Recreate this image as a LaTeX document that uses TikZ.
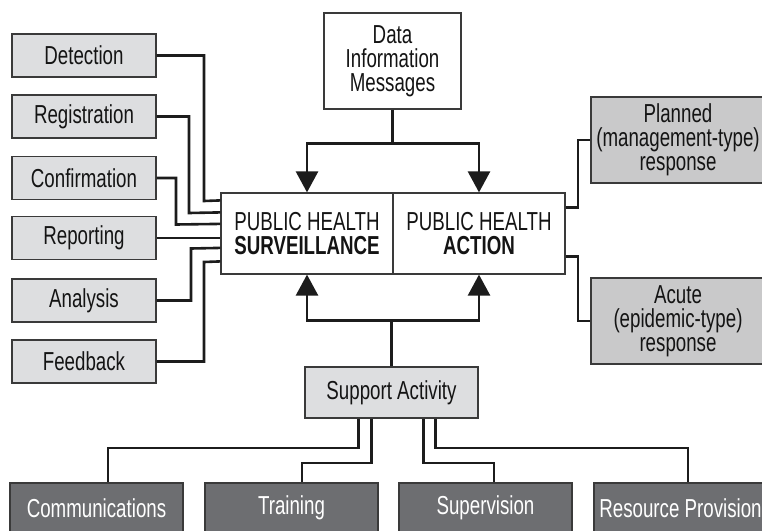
\documentclass[tikz,border=0pt]{standalone}
\usepackage{fontspec}
\setmainfont{Liberation Sans}[FakeStretch=0.72]
\usetikzlibrary{arrows.meta}
\definecolor{lightbox}{HTML}{DDDEE0}
\definecolor{midbox}{HTML}{C9C9CA}
\definecolor{darkbox}{HTML}{6D6E71}
\definecolor{edgecol}{HTML}{3A3A3A}
\definecolor{linecol}{HTML}{1C1C1C}
\tikzset{
  basebox/.style={draw=edgecol, line width=1.2pt, inner sep=0pt, align=center,
    font=\fontsize{26}{24}\selectfont, text=black!92},
  leftbox/.style={basebox, fill=lightbox, minimum width=144pt, minimum height=43pt},
  whitebox/.style={basebox, fill=white},
  rightbox/.style={basebox, fill=midbox, minimum width=174pt, minimum height=86pt},
  bottombox/.style={basebox, fill=darkbox, text=white, minimum width=173pt, minimum height=50pt},
  conn/.style={draw=linecol, line width=2.6pt},
  arr/.style={conn, -{Triangle[width=22pt,length=21pt]}},
}
\begin{document}
\begin{tikzpicture}[x=1pt,y=-1pt]
\useasboundingbox (0,0) rectangle (762,530);
\clip (0,0) rectangle (762,530);

% left boxes
\node[leftbox] (det) at (84,55.5) {Detection};
\node[leftbox] (reg) at (84,116.5) {Registration};
\node[leftbox] (con) at (84,178) {Confirmation};
\node[leftbox] (rep) at (84,238) {Reporting};
\node[leftbox] (ana) at (84,300.5) {Analysis};
\node[leftbox] (fee) at (84,361.5) {Feedback};

% central boxes
\node[whitebox, minimum width=172pt, minimum height=81pt] (sv) at (307,233.5)
  {PUBLIC HEALTH\\\textbf{SURVEILLANCE}};
\node[whitebox, minimum width=172pt, minimum height=81pt] (act) at (479,233.5)
  {PUBLIC HEALTH\\\textbf{ACTION}};

% data box
\node[whitebox, minimum width=137pt, minimum height=96pt] (dat) at (392.5,61)
  {Data\\Information\\Messages};

% right boxes
\node[rightbox] (pla) at (678,140) {Planned\\(management-type)\\response};
\node[rightbox] (acu) at (678,321) {Acute\\(epidemic-type)\\response};

% support
\node[leftbox, minimum width=173pt, minimum height=51pt] (sup) at (391.5,392.5) {Support Activity};

% bottom boxes
\node[bottombox] (com) at (96.5,508) {Communications};
\node[bottombox] (tra) at (291.5,508) {Training};
\node[bottombox] (spv) at (485.5,508) {Supervision};
\node[bottombox] (res) at (680.5,508) {Resource Provision};

% left connectors
\draw[conn] (det.east) -| (204,201) -- ([yshift=-8pt]sv.north west);
\draw[conn] (reg.east) -| (189,213) -- ([yshift=-20pt]sv.north west);
\draw[conn] (con.east) -| (176,224.5) -- ([yshift=-31.5pt]sv.north west);
\draw[conn] (rep.east) -- (rep.east -| sv.west);
\draw[conn] (ana.east) -| (191,248.5) -- ([yshift=-55.5pt]sv.north west);
\draw[conn] (fee.east) -| (204,262) -- ([yshift=-69pt]sv.north west);

% data arrows
\draw[conn] (dat.south) -- ++(0,34) coordinate (j1);
\draw[arr] (j1) -| (sv.north);
\draw[arr] (j1) -| (act.north);

% support arrows
\draw[conn] (sup.north) -- ++(0,-46) coordinate (j2);
\draw[arr] (j2) -| (sv.south);
\draw[arr] (j2) -| (act.south);

% right connectors
\draw[conn] ([yshift=-15pt]act.north east) -| (578,140) -- (pla.west);
\draw[conn] ([yshift=-64pt]act.north east) -| (578,321) -- (acu.west);

% bottom connectors
\draw[conn] ([xshift=54pt]sup.south west) |- (108,448) -- ([xshift=11.5pt]com.north);
\draw[conn] ([xshift=67pt]sup.south west) |- (302,463) -- ([xshift=10.5pt]tra.north);
\draw[conn] ([xshift=119pt]sup.south west) |- (494,463) -- ([xshift=8.5pt]spv.north);
\draw[conn] ([xshift=131pt]sup.south west) |- (688,448) -- ([xshift=7.5pt]res.north);
\end{tikzpicture}
\end{document}
